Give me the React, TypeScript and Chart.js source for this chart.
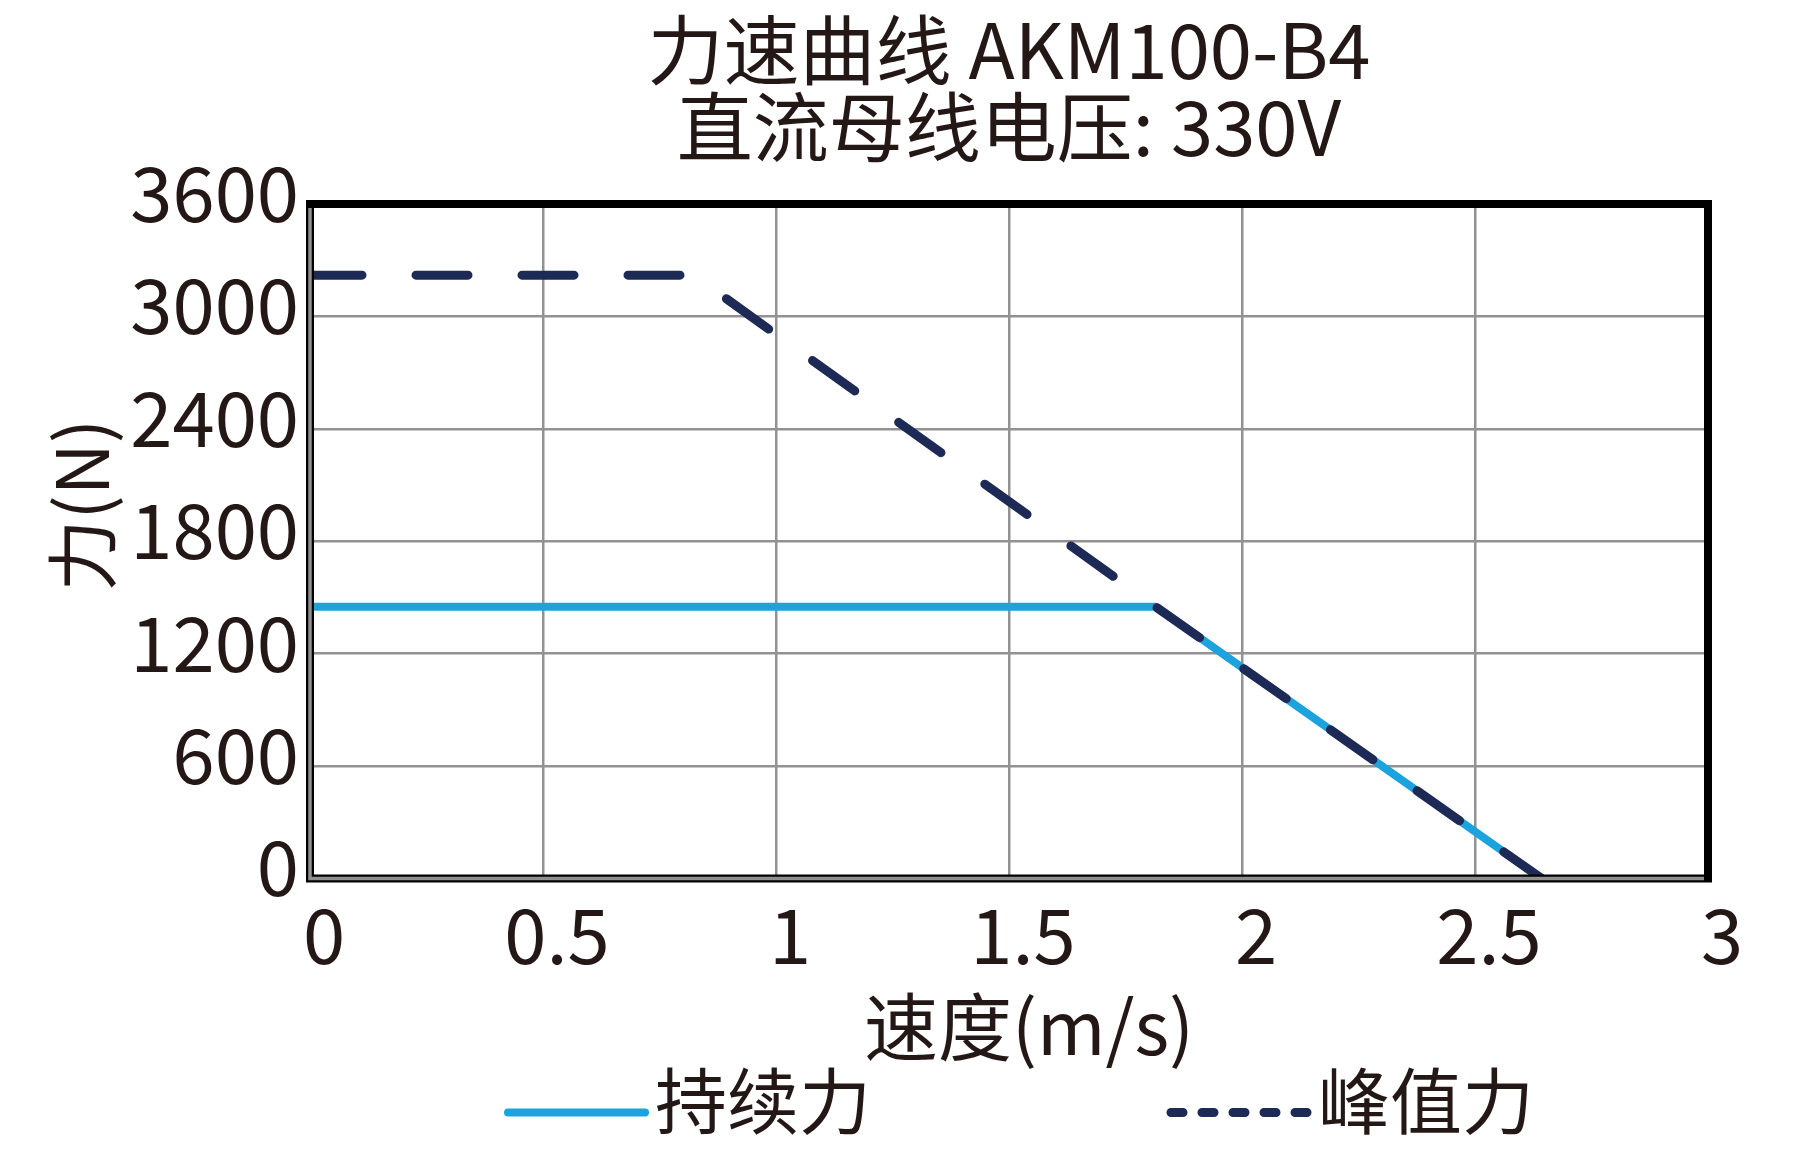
import React, { useEffect, useRef } from "react";
import { Chart, registerables } from "chart.js";

Chart.register(...registerables);

// 数据
const continuousSpeed = [0, 1.815, 2.643];
const continuousForce = [1450, 1450, 0];
const peakSpeed = [0, 0.823, 1.815, 2.643];
const peakForce = [3220, 3220, 1450, 0];
const xTicks = [0, 0.5, 1, 1.5, 2, 2.5, 3];
const yTicks = [0, 600, 1200, 1800, 2400, 3000, 3600];
const titleLines = ["力速曲线 AKM100-B4", "直流母线电压: 330V"];
const seriesNames = ["持续力", "峰值力"];
const xTitle = "速度(m/s)";
const yTitle = "力(N)";

const FONT = "'Noto Sans CJK SC', 'Noto Sans', sans-serif";
const TEXT = "#231815";
const CYAN = "#1ca3dd";
const NAVY = "#1c2a55";
const legendDash = [[], [12, 19]];

// 外框：上、右为黑色粗线，左、下为黑灰双线
const framePlugin = {
  id: "frame",
  afterDatasetsDraw(chart: any) {
    const { ctx, chartArea: a } = chart;
    ctx.save();
    ctx.lineJoin = "miter";
    ctx.strokeStyle = "#000";
    ctx.lineWidth = 8;
    ctx.beginPath();
    ctx.moveTo(a.left, a.top);
    ctx.lineTo(a.right, a.top);
    ctx.lineTo(a.right, a.bottom);
    ctx.lineTo(a.left, a.bottom);
    ctx.closePath();
    ctx.stroke();
    ctx.strokeStyle = "#8f8f8f";
    ctx.lineWidth = 3.5;
    ctx.beginPath();
    ctx.moveTo(a.left, a.top + 4);
    ctx.lineTo(a.left, a.bottom);
    ctx.lineTo(a.right - 4, a.bottom);
    ctx.stroke();
    ctx.restore();
  },
};

// 坐标轴标题与图例
const textPlugin = {
  id: "texts",
  afterDraw(chart: any) {
    const { ctx, chartArea: a } = chart;
    const cx = (a.left + a.right) / 2;
    ctx.save();
    ctx.fillStyle = TEXT;
    ctx.textBaseline = "middle";
    ctx.textAlign = "center";

    ctx.font = `74px ${FONT}`;
    ctx.fillText(xTitle, cx + 20, a.bottom + 148);

    ctx.save();
    ctx.translate(82, (a.top + a.bottom) / 2 - 36);
    ctx.rotate(-Math.PI / 2);
    ctx.font = `72px ${FONT}`;
    ctx.fillText(yTitle, 0, 0);
    ctx.restore();

    // 图例
    const starts = [cx - 501, cx + 162];
    const lineLen = 137;
    ctx.font = `72px ${FONT}`;
    ctx.textAlign = "left";
    chart.data.datasets.forEach((ds: any, i: number) => {
      const x0 = starts[i];
      const y = a.bottom + 234;
      ctx.save();
      ctx.strokeStyle = ds.borderColor;
      ctx.lineWidth = ds.borderWidth;
      ctx.lineCap = "round";
      ctx.setLineDash(legendDash[i]);
      ctx.beginPath();
      ctx.moveTo(x0, y);
      ctx.lineTo(x0 + lineLen, y);
      ctx.stroke();
      ctx.restore();
      ctx.fillText(ds.label, x0 + lineLen + 10, a.bottom + 222);
    });
    ctx.restore();
  },
};

export default function App() {
  const canvasRef = useRef<HTMLCanvasElement>(null);

  useEffect(() => {
    document.body.style.margin = "0";
    if (!canvasRef.current) return;

    const chart = new Chart(canvasRef.current, {
      type: "line",
      data: {
        datasets: [
          {
            label: seriesNames[0],
            data: continuousSpeed.map((x, i) => ({ x, y: continuousForce[i] })),
            borderColor: CYAN,
            backgroundColor: CYAN,
            borderWidth: 8,
            pointRadius: 0,
            tension: 0,
            borderCapStyle: "round",
            borderJoinStyle: "round",
            order: 1,
          },
          {
            label: seriesNames[1],
            data: peakSpeed.map((x, i) => ({ x, y: peakForce[i] })),
            borderColor: NAVY,
            backgroundColor: NAVY,
            borderWidth: 9,
            borderDash: [52, 54],
            pointRadius: 0,
            tension: 0,
            borderCapStyle: "round",
            borderJoinStyle: "round",
            order: 0,
          },
        ],
      },
      options: {
        responsive: false,
        animation: false,
        devicePixelRatio: 1,
        layout: { padding: { left: 0, right: 106, top: 0, bottom: 0 } },
        plugins: {
          legend: { display: false },
          tooltip: { enabled: false },
          title: {
            display: true,
            fullSize: false,
            text: titleLines,
            color: TEXT,
            font: { family: FONT, size: 76, weight: "normal", lineHeight: 1.013 },
            padding: { top: 12, bottom: 38 },
          },
        },
        scales: {
          x: {
            type: "linear",
            min: 0,
            max: 3,
            afterBuildTicks: (scale: any) => {
              scale.ticks = xTicks.map((value) => ({ value }));
            },
            afterFit: (scale: any) => {
              scale.height = 279.5;
            },
            grid: { color: "#929292", lineWidth: 2.5, drawTicks: false },
            border: { display: false },
            ticks: {
              autoSkip: false,
              maxRotation: 0,
              padding: 11,
              labelOffset: 14,
              color: TEXT,
              font: { family: FONT, size: 76 },
              callback: (v: any) => String(v),
            },
          },
          y: {
            type: "linear",
            min: 0,
            max: 3600,
            afterBuildTicks: (scale: any) => {
              scale.ticks = yTicks.map((value) => ({ value }));
            },
            afterFit: (scale: any) => {
              scale.width = 310;
            },
            grid: { color: "#929292", lineWidth: 2.5, drawTicks: false },
            border: { display: false },
            ticks: {
              autoSkip: false,
              padding: 11,
              labelOffset: -11,
              color: TEXT,
              font: { family: FONT, size: 76 },
              callback: (v: any) => String(v),
            },
          },
        },
      },
      plugins: [framePlugin, textPlugin],
    } as any);

    return () => {
      chart.destroy();
    };
  }, []);

  return (
    <div style={{ width: 1814, height: 1158, background: "#fff" }}>
      <canvas ref={canvasRef} width={1814} height={1158} style={{ display: "block" }} />
    </div>
  );
}
